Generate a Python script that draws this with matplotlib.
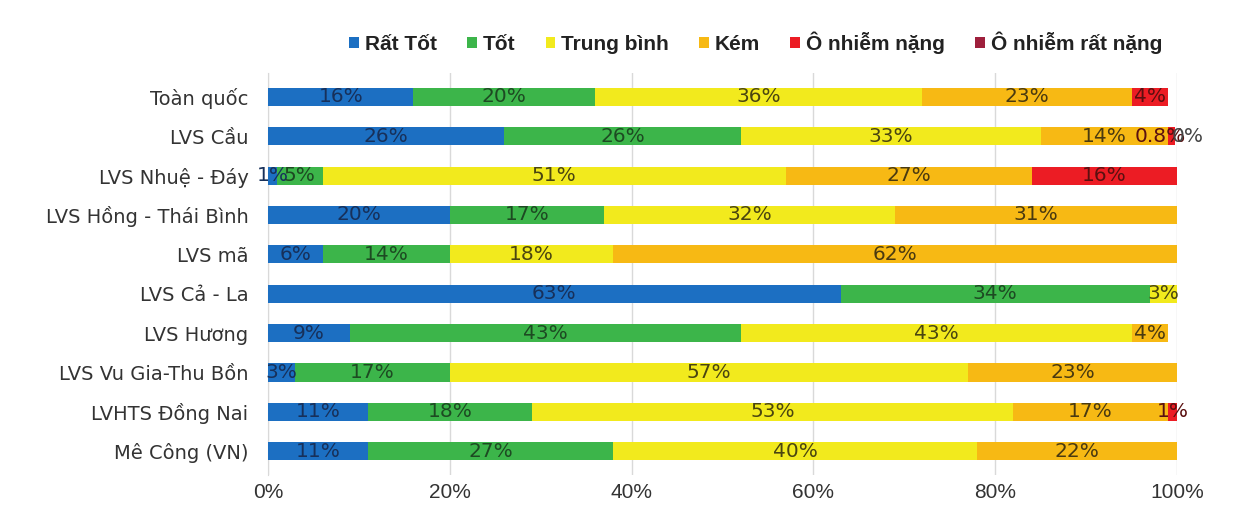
import matplotlib.pyplot as plt
import numpy as np

plt.rcParams['font.family'] = ['DejaVu Sans']

regions = ['Toàn quốc', 'LVS Cầu', 'LVS Nhuệ - Đáy', 'LVS Hồng - Thái Bình', 'LVS mã',
           'LVS Cả - La', 'LVS Hương', 'LVS Vu Gia-Thu Bồn', 'LVHTS Đồng Nai', 'Mê Công (VN)']

rat_tot    = [16, 26, 1, 20, 6, 63, 9, 3, 11, 11]
tot        = [20, 26, 5, 17, 14, 34, 43, 17, 18, 27]
trung_binh = [36, 33, 51, 32, 18, 3, 43, 57, 53, 40]
kem        = [23, 14, 27, 31, 62, 0, 4, 23, 17, 22]
nang       = [4, 0.8, 16, 0, 0, 0, 0, 0, 1, 0]
rat_nang   = [0, 0, 0, 0, 0, 0, 0, 0, 0, 0]

names = ['Rất Tốt', 'Tốt', 'Trung bình', 'Kém', 'Ô nhiễm nặng', 'Ô nhiễm rất nặng']
series = [rat_tot, tot, trung_binh, kem, nang, rat_nang]
colors = ['#1c6fc2', '#3cb54a', '#f2ea1d', '#f7b914', '#ec1c24', '#9e1f3c']
label_colors = ['#17305a', '#1d4a22', '#4a4510', '#4a3a10', '#5a1010', '#333333']

plain = ['Liberation Sans', 'DejaVu Sans']

fig, ax = plt.subplots(figsize=(12.35, 5.08), dpi=100)
fig.subplots_adjust(left=0.217, right=0.953, top=0.856, bottom=0.065)

y = np.arange(len(regions))
left = np.zeros(len(regions))
for name, vals, c, lc in zip(names, series, colors, label_colors):
    vals = np.array(vals, dtype=float)
    ax.barh(y, vals, left=left, height=0.46, color=c, label=name, zorder=3)
    for i, v in enumerate(vals):
        if v > 0:
            x = left[i] + v / 2
            if v < 1:
                x -= 1.2  # Excel nudges this tiny label left
            ax.text(x, y[i], '%g%%' % v, ha='center', va='center',
                    fontsize=14.5, color=lc, zorder=4)
    left += vals

# the "0%" label for the very-heavy pollution class in LVS Cầu
ax.text(left[1] + 1.4, y[1], '0%', ha='center', va='center', fontsize=14.5,
        color='#444444', zorder=5)

ax.set_xlim(0, 100)
ax.set_ylim(len(regions) - 0.4, -0.6)
ax.set_yticks(y)
ax.set_yticklabels(regions, fontsize=14, color='#333333')
ax.set_xticks(np.arange(0, 101, 20))
ax.set_xticklabels(['%d%%' % t for t in range(0, 101, 20)], fontsize=15,
                   color='#333333', family=plain)
ax.tick_params(length=0)
ax.tick_params(axis='y', pad=14)
ax.tick_params(axis='x', pad=6)
ax.xaxis.grid(True, color='#d9d9d9', linewidth=1, zorder=0)
for s in ['top', 'right', 'bottom']:
    ax.spines[s].set_visible(False)
ax.spines['left'].set_color('#d9d9d9')

leg = fig.legend(loc='upper center', bbox_to_anchor=(0.612, 0.975), ncol=6, frameon=False,
                 prop={'family': plain, 'size': 15, 'weight': 'bold'},
                 handlelength=0.45, handleheight=0.45, handletextpad=0.3, columnspacing=1.45)
for t in leg.get_texts():
    t.set_color('#222222')

fig.savefig('out.png', dpi=100)
